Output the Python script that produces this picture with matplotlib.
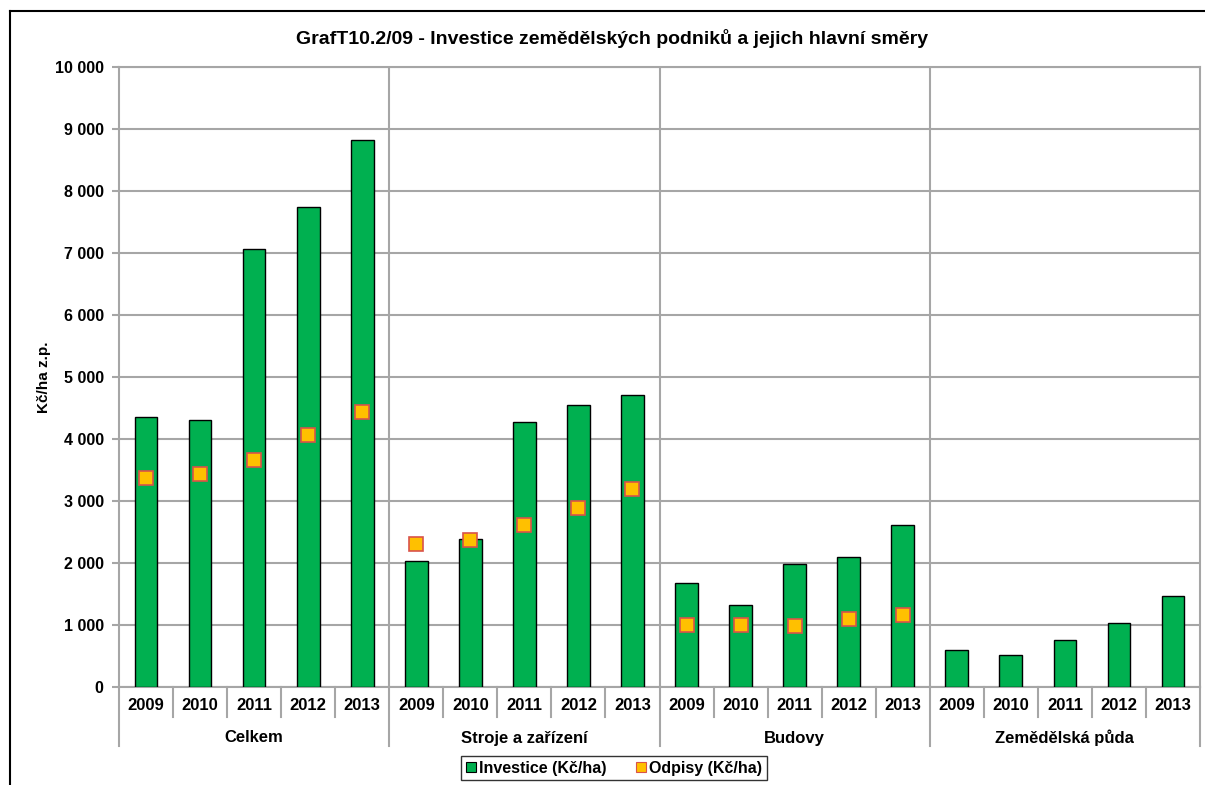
import numpy as np
import matplotlib
matplotlib.use("Agg")
import matplotlib.pyplot as plt
from matplotlib.lines import Line2D
from matplotlib.patches import Patch

plt.rcParams["font.family"] = ["Liberation Sans", "DejaVu Sans"]
plt.rcParams["font.weight"] = "bold"

years = ["2009", "2010", "2011", "2012", "2013"]
groups = ["Celkem", "Stroje a zařízení", "Budovy", "Zemědělská půda"]

investice = [
    4360, 4300, 7060, 7740, 8830,   # Celkem
    2030, 2390, 4270, 4550, 4710,   # Stroje a zařízení
    1670, 1320, 1980, 2090, 2610,   # Budovy
    600, 515, 765, 1030, 1475,      # Zemědělská půda
]
odpisy = [
    3365, 3430, 3660, 4065, 4430,
    2310, 2365, 2615, 2895, 3200,
    1000, 1000, 985, 1095, 1160,
    np.nan, np.nan, np.nan, np.nan, np.nan,
]

GREEN = "#00B050"
ORANGE = "#FFC000"
MARKER_EDGE = "#D9534A"
GRID = "#A6A6A6"

W, H = 1205, 785
fig = plt.figure(figsize=(W / 100, H / 100), dpi=100)
ax = fig.add_axes([119 / W, 1 - 687 / H, (1200 - 119) / W, (687 - 67) / H])

x = np.arange(len(investice))
ax.bar(x, investice, width=0.42, color=GREEN, edgecolor="black", linewidth=1, zorder=3)
ax.plot(x, odpisy, linestyle="none", marker="s", markersize=10.5,
        markerfacecolor=ORANGE, markeredgecolor=MARKER_EDGE, markeredgewidth=1.2, zorder=4)

ax.set_xlim(-0.5, len(investice) - 0.5)
ax.set_ylim(0, 10000)
ax.set_yticks(np.arange(0, 10001, 1000))
ax.set_yticklabels([f"{v:,}".replace(",", " ") for v in range(0, 10001, 1000)],
                   fontsize=11.5, fontweight="bold")
ax.tick_params(axis="y", length=5, color=GRID, width=1.5, pad=6)
ax.set_xticks([])
ax.grid(axis="y", color=GRID, linewidth=1.5, zorder=0)
for b in [4.5, 9.5, 14.5]:
    ax.axvline(b, color=GRID, linewidth=1.5, zorder=0)
for s in ax.spines.values():
    s.set_color(GRID)
    s.set_linewidth(1.5)

ax.set_ylabel("Kč/ha z.p.", fontsize=11, fontweight="bold")
ax.yaxis.set_label_coords(-68 / (1200 - 119), 0.5)

# category axis (years + groups)
tr = ax.get_xaxis_transform()
ah = 687 - 67
for i, xi in enumerate(x):
    ax.text(xi, -18 / ah, years[i % 5], transform=tr, ha="center", va="center",
            fontsize=12, fontweight="bold")
for b in np.arange(-0.5, len(investice), 1.0):
    is_group = (b + 0.5) % 5 == 0
    depth = -59 / ah if is_group else -30 / ah
    ax.add_line(Line2D([b, b], [0, depth], transform=tr, color=GRID, linewidth=1.5,
                       clip_on=False))
for g, name in enumerate(groups):
    ax.text(g * 5 + 2, -51 / ah, name, transform=tr, ha="center", va="center",
            fontsize=12, fontweight="bold")

fig.suptitle("GrafT10.2/09 - Investice zemědělských podniků a jejich hlavní směry",
             x=612 / W, y=1 - 38 / H, va="center",
             fontsize=14, fontweight="bold")

handles = [
    Patch(facecolor=GREEN, edgecolor="black", linewidth=0.8),
    Patch(facecolor=ORANGE, edgecolor=MARKER_EDGE, linewidth=0.8),
]
leg = fig.legend(handles, ["Investice (Kč/ha)", "Odpisy (Kč/ha)"], ncol=2,
                 loc="center", bbox_to_anchor=(614 / W, 1 - 768 / H),
                 frameon=True, fancybox=False, edgecolor="black",
                 handlelength=0.65, handleheight=0.65, handletextpad=0.2,
                 columnspacing=1.8, borderpad=0.3, prop={"weight": "bold", "size": 11.5})
leg.get_frame().set_linewidth(1)

# outer chart frame (left and top edges visible)
fig.add_artist(Line2D([9.5 / W, 9.5 / W], [0, 1 - 10.5 / H], color="black", linewidth=1.5))
fig.add_artist(Line2D([9.5 / W, 1], [1 - 10.5 / H, 1 - 10.5 / H], color="black", linewidth=1.5))

fig.savefig("out.png", dpi=100)
